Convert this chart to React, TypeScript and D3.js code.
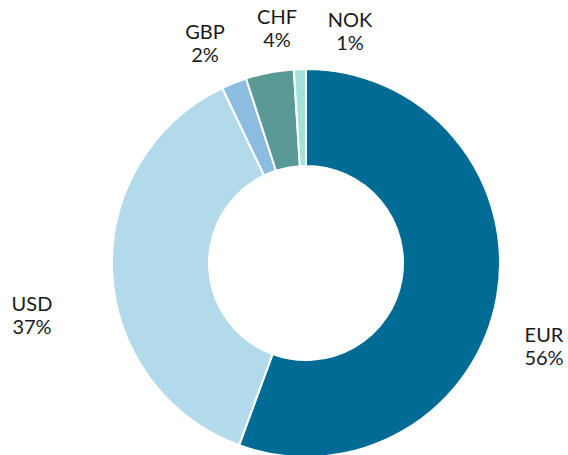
import React from "react";
import * as d3 from "d3";

const currencies = ["EUR", "USD", "GBP", "CHF", "NOK"];
const shares = [55.6, 37.3, 2.1, 4.0, 1.0];
const colors = ["#006c96", "#b2daeb", "#8cbde1", "#5a9a96", "#a3e2d8"];

// label anchor (centre of the two-line label, first baseline) relative to the chart centre
const labelLayout: Record<string, [number, number]> = {
  EUR: [238, 79],
  USD: [-274, 48],
  GBP: [-101, -224],
  CHF: [-29, -239.5],
  NOK: [44, -236],
};

const W = 568;
const H = 455;
const cx = 306;
const cy = 263;
const R = 194;
const r = 97;

export default function App() {
  const data = currencies.map((c, i) => ({ c, v: shares[i], color: colors[i] }));
  const pie = d3
    .pie<{ c: string; v: number; color: string }>()
    .value((d) => d.v)
    .sort(null);
  const arc = d3
    .arc<d3.PieArcDatum<{ c: string; v: number; color: string }>>()
    .innerRadius(r)
    .outerRadius(R);
  const arcs = pie(data);
  return (
    <svg
      width={W}
      height={H}
      style={{ position: "absolute", left: 0, top: 0, background: "#fff" }}
    >
      <g transform={`translate(${cx},${cy})`}>
        {arcs.map((a) => (
          <path
            key={a.data.c}
            d={arc(a) || ""}
            fill={a.data.color}
            stroke="#fff"
            strokeWidth={2}
            strokeLinejoin="round"
          />
        ))}
        {arcs.map((a) => {
          const [lx, ly] = labelLayout[a.data.c];
          return (
            <text
              key={"l" + a.data.c}
              x={lx}
              y={ly}
              textAnchor="middle"
              fontFamily="Lato, sans-serif"
              fontSize={20}
              fill="#1a1a1a"
            >
              <tspan x={lx}>{a.data.c}</tspan>
              <tspan x={lx} dy={23.3}>
                {Math.round(a.data.v) + "%"}
              </tspan>
            </text>
          );
        })}
      </g>
    </svg>
  );
}
